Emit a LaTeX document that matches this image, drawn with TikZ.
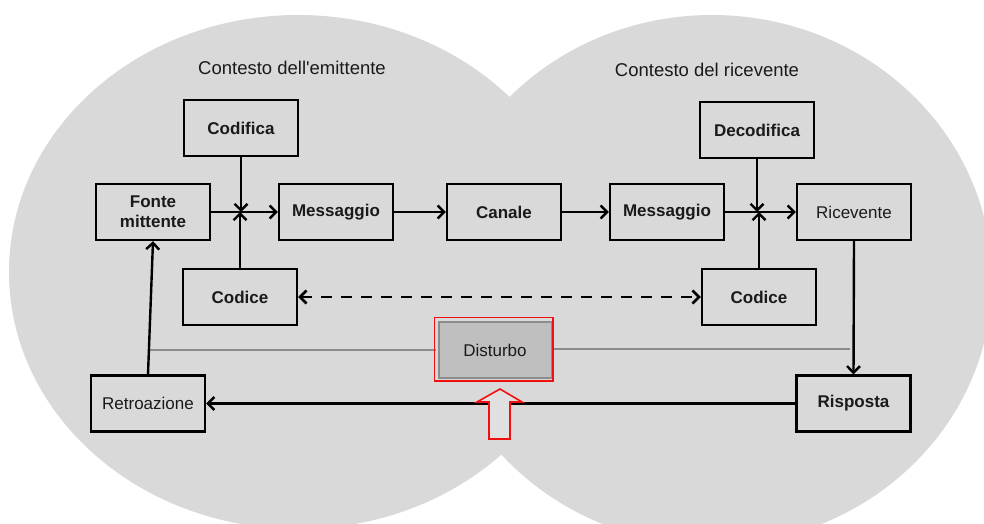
\documentclass[tikz,border=0pt]{standalone}
\usepackage{fontspec}
\setmainfont{Liberation Sans}
\usetikzlibrary{arrows.meta}
\definecolor{bg}{HTML}{D9D9D9}
\definecolor{txt}{HTML}{1A1A1A}
\definecolor{lgray}{HTML}{8C8C8C}
\definecolor{dgfill}{HTML}{BFBFBF}
\definecolor{redline}{HTML}{F01010}
\definecolor{arrfill}{HTML}{E0E0E0}
\begin{document}
\begin{tikzpicture}[x=1pt,y=-1pt,
  box/.style={draw=black, line width=2.4pt, minimum width=114pt, minimum height=56pt,
    inner sep=0pt, align=center, text=txt, font=\fontsize{17}{20}\selectfont\bfseries},
  boxreg/.style={box, font=\fontsize{17}{20}\selectfont},
  title/.style={text=txt, font=\fontsize{18.5}{22}\selectfont},
  conn/.style={line width=2.4pt, -{Straight Barb[length=6.5pt,width=13pt]}},
  dconn/.style={line width=2.6pt, dash pattern=on 11pt off 9pt,
    {Straight Barb[length=6.5pt,width=13pt]}-{Straight Barb[length=6.5pt,width=13pt]}},
  grayline/.style={draw=lgray, line width=2pt},
]
\useasboundingbox (0,0) rectangle (984,524);
\clip (0,0) rectangle (984,524);
% background contexts
\fill[bg] (298,272) ellipse [x radius=289pt, y radius=257pt];
\fill[bg] (712,280) ellipse [x radius=280pt, y radius=265pt];

% titles
\node[title] (temit) at (292,68) {Contesto dell\textquotesingle emittente};
\node[title] (tric) at (707,70) {Contesto del ricevente};

% nodes
\node[box] (codifica) at (241,128) {Codifica};
\node[box] (fonte) at (153,212) {Fonte\\mittente};
\node[box] (msg1) at (336,212) {Messaggio};
\node[box] (codice1) at (240,297) {Codice};
\node[box] (canale) at (504,212) {Canale};
\node[box] (msg2) at (667,212) {Messaggio};
\node[box] (decodifica) at (757,130) {Decodifica};
\node[boxreg] (ricev) at (854,212) {Ricevente};
\node[box] (codice2) at (759,297) {Codice};
\node[boxreg] (retro) at (148,403.5) {Retroazione};
\node[box] (risp) at (853.5,403.5) {Risposta};

\coordinate (j1) at (240.5,212);
\coordinate (j2) at (758,212);
\coordinate (g1) at (149,350);
\coordinate (g2) at (850,349);

% noise lines
\draw[grayline] (g1) -- (g1 -| 436,0);
\draw[grayline] (g2) -- (g2 -| 553,0);

% connectors
\draw[conn] (fonte) -- (msg1);
\draw[conn] (codifica.south) -- (codifica.south |- j1);
\draw[conn] (codice1.north) -- (codice1.north |- j1);
\draw[conn] (msg1) -- (canale);
\draw[conn] (canale) -- (msg2);
\draw[conn] (msg2) -- (ricev);
\draw[conn] (decodifica.south) -- (decodifica.south |- j2);
\draw[conn] (codice2.north) -- (codice2.north |- j2);
\draw[dconn] (codice1) -- (codice2);
\draw[conn] (ricev.south) -- (risp.north);
\draw[conn] (risp) -- (retro);
\draw[conn] (retro.north) -- (fonte.south);

% disturbo
\node[draw=lgray, line width=2pt, fill=dgfill, minimum width=113pt, minimum height=56pt,
  inner sep=0pt, text=txt, font=\fontsize{17}{20}\selectfont] (dist) at (495,350) {Disturbo};
\draw[redline, line width=1.8pt] (434.5,317.5) rectangle (553,381);

% red arrow
\draw[redline, line width=1.6pt, fill=arrfill, line join=miter]
  (500,389) -- (522,402) -- (510,402) -- (510,439) -- (489,439) -- (489,402) -- (477,402) -- cycle;
\end{tikzpicture}
\end{document}
